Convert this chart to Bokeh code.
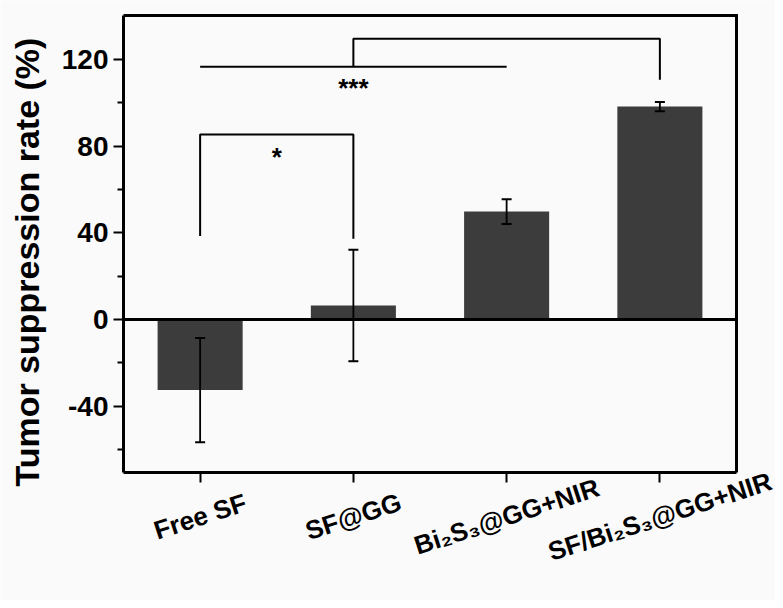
import math
from bokeh.plotting import figure
from bokeh.models import (Range1d, FixedTicker, Whisker, TeeHead, ColumnDataSource)
from bokeh.core.properties import value
from bokeh.embed import file_html
from bokeh.resources import INLINE

# ---------------- data ----------------
categories = ["Free SF", "SF@GG", "Bi\u2082S\u2083@GG+NIR", "SF/Bi\u2082S\u2083@GG+NIR"]
rates = [-32.5, 6.5, 49.8, 98.2]
errors = [24.0, 25.7, 5.7, 2.1]
y_ticks = [-40, 0, 40, 80, 120]
y_tick_labels = ["-40", "0", "40", "80", "120"]
y_minor_ticks = [-60, -20, 20, 60, 100]
y_title = "Tumor suppression rate (%)"

# significance bracket "*" between group 1 and group 2
star1_groups = [1, 2]
star1_top = 85.3
star1_leg_bottoms = [38.5, 37.3]
star1_label = "*"
star1_label_y = 75.0

# significance bracket "***"
star3_low_groups = [1, 3]     # lower horizontal line
star3_low_y = 116.6
star3_top_groups = [2, 4]     # upper bracket
star3_top_y = 129.5
star3_leg_bottom = 110.6
star3_label = "***"
star3_label_y = 107.0

# axis box (data limits)
x_lo, x_hi = 0.5, 4.5
y_lo, y_hi = -70.5, 140.2

# ---------------- layout / style ----------------
FONT = "Liberation Sans"
BAR = "#3c3c3c"
BG = "#fafafa"
W, H = 775, 600
BOX_L, BOX_R, BOX_T, BOX_B = 123, 736, 15, 472   # pixel position of the axis box

ppx = (BOX_R - BOX_L) / (x_hi - x_lo)
ppy = (BOX_B - BOX_T) / (y_hi - y_lo)
xr = Range1d(x_lo - BOX_L / ppx, x_hi + (W - BOX_R) / ppx)
yr = Range1d(y_lo - (H - BOX_B) / ppy, y_hi + BOX_T / ppy)

xs = [i + 1 for i in range(len(categories))]

p = figure(width=W, height=H, x_range=xr, y_range=yr,
           output_backend="svg", toolbar_location=None, min_border=0)
p.background_fill_color = BG
p.border_fill_color = BG
p.grid.visible = False
p.outline_line_color = None

# axes drawn at the box edges
p.axis.axis_line_width = 3
p.axis.axis_line_color = "black"
p.axis.major_tick_line_width = 2
p.axis.major_tick_out = 10
p.axis.major_tick_in = 0
p.axis.minor_tick_line_width = 2
p.axis.minor_tick_out = 6
p.axis.minor_tick_in = 0

p.yaxis.fixed_location = x_lo
p.yaxis.bounds = (y_lo, y_hi)
p.yaxis.ticker = FixedTicker(ticks=y_ticks, minor_ticks=y_minor_ticks)
p.yaxis.major_label_overrides = dict(zip(y_ticks, y_tick_labels))
p.yaxis.major_label_text_font = FONT
p.yaxis.major_label_text_font_style = "bold"
p.yaxis.major_label_text_font_size = "28px"
p.yaxis.major_label_text_color = "black"
p.yaxis.major_label_standoff = 5

p.xaxis.fixed_location = y_lo
p.xaxis.bounds = (x_lo, x_hi)
p.xaxis.ticker = FixedTicker(ticks=xs, minor_ticks=[])
p.xaxis.major_label_overrides = {x: "" for x in xs}

# top and right edges of the box
p.line(x=[x_lo, x_hi, x_hi], y=[y_hi, y_hi, y_lo], line_color="black",
       line_width=3, line_join="miter")

# bars
src = ColumnDataSource(dict(x=xs, top=rates,
                            upper=[r + e for r, e in zip(rates, errors)],
                            lower=[r - e for r, e in zip(rates, errors)],
                            cat=categories))
p.vbar(x="x", top="top", bottom=0, width=0.555, source=src,
       fill_color=BAR, line_color=None)

# zero line across the box
p.segment(x0=[x_lo], x1=[x_hi], y0=[0], y1=[0], line_color="black", line_width=3)

# error bars
wh = Whisker(base="x", upper="upper", lower="lower", source=src,
             line_color="black", line_width=1.8,
             upper_head=TeeHead(size=10, line_width=2, line_color="black"),
             lower_head=TeeHead(size=10, line_width=2, line_color="black"),
             level="annotation")
p.add_layout(wh)

# significance brackets
b1x = [star1_groups[0], star1_groups[0], star1_groups[1], star1_groups[1]]
b1y = [star1_leg_bottoms[0], star1_top, star1_top, star1_leg_bottoms[1]]
b2x = [star3_low_groups[0], star3_low_groups[1]]
b2y = [star3_low_y, star3_low_y]
b3x = [star3_top_groups[0], star3_top_groups[0], star3_top_groups[1], star3_top_groups[1]]
b3y = [star3_low_y, star3_top_y, star3_top_y, star3_leg_bottom]
p.multi_line(xs=[b1x, b2x, b3x], ys=[b1y, b2y, b3y], line_color="black", line_width=2)

p.text(x=[sum(star1_groups) / 2, star3_top_groups[0]],
       y=[star1_label_y, star3_label_y],
       text=[star1_label, star3_label],
       text_font=value(FONT), text_font_style="bold", text_font_size="26px",
       text_align="center", text_baseline="middle", text_color="black")

# rotated category labels under the ticks
p.text(x="x", y=y_lo, text="cat", source=src, y_offset=44,
       angle=math.radians(18), text_align="center", text_baseline="middle",
       text_font=value(FONT), text_font_style="bold", text_font_size="26px",
       text_color="black")

# y-axis title
p.text(x=[x_lo], y=[26.5], text=[y_title], x_offset=-97,
       angle=math.pi / 2, text_align="center", text_baseline="alphabetic",
       text_font=value(FONT), text_font_style="bold", text_font_size="34px",
       text_color="black")

open("out.html", "w").write(file_html(p, INLINE))
